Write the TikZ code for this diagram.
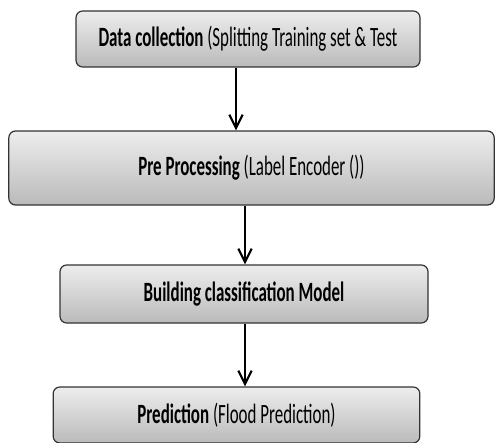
\documentclass[tikz,border=0pt]{standalone}
\usepackage{fontspec}
\setmainfont{Carlito}
\usetikzlibrary{arrows.meta}
\newcommand{\tallt}[1]{\scalebox{1}[1.65]{#1}}
\tikzset{
  stepbox/.style={draw=black!80, line width=0.9pt, rounded corners=5pt,
    top color=black!7, bottom color=black!27, inner sep=0pt,
    font=\fontsize{12.7}{15}\selectfont},
  flow/.style={line width=1.6pt, -{Straight Barb[length=10pt,width=10pt]}}
}
\begin{document}
\begin{tikzpicture}[x=0.75pt,y=0.75pt,yscale=-1,xscale=1]
\useasboundingbox (0,0) rectangle (495,442);

%Shape: Rounded Rectangle [collection]
\node [stepbox, minimum width=258pt, minimum height=42pt] (collect) at (248,39)
  {\tallt{\textbf{Data collection} (Splitting Training set \& Test}};
%Shape: Rounded Rectangle [preprocess]
\node [stepbox, minimum width=364pt, minimum height=55.5pt] (preproc) at (251.5,168)
  {\tallt{\textbf{Pre Processing} (Label Encoder ())}};
%Shape: Rounded Rectangle [model]
\node [stepbox, minimum width=276pt, minimum height=43.5pt] (model) at (244,294)
  {\tallt{\textbf{Building classification Model}}};
%Shape: Rounded Rectangle [prediction]
\node [stepbox, minimum width=275pt, minimum height=42pt] (predict) at (236.5,415)
  {\tallt{\textbf{Prediction} (Flood Prediction)}};

%Straight Lines
\draw [flow] (collect.south -| 236,0) -- (preproc.north -| 236,0);
\draw [flow] (preproc.south -| 245,0) -- (model.north -| 245,0);
\draw [flow] (model.south -| 245,0) -- (predict.north -| 245,0);

\end{tikzpicture}
\end{document}
